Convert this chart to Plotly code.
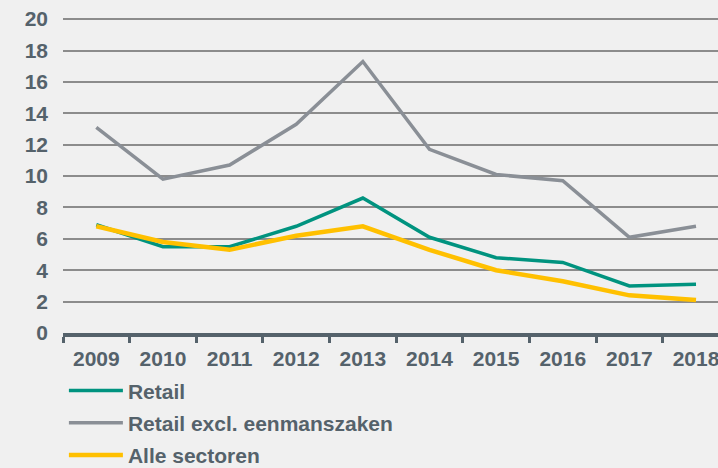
import plotly.graph_objects as go

years = ["2009", "2010", "2011", "2012", "2013", "2014", "2015", "2016", "2017", "2018"]
retail = [6.9, 5.5, 5.5, 6.8, 8.6, 6.1, 4.8, 4.5, 3.0, 3.1]
retail_excl = [13.1, 9.8, 10.7, 13.3, 17.3, 11.7, 10.1, 9.7, 6.1, 6.8]
alle_sectoren = [6.8, 5.8, 5.3, 6.2, 6.8, 5.3, 4.0, 3.3, 2.4, 2.1]
y_ticks = [0, 2, 4, 6, 8, 10, 12, 14, 16, 18, 20]

TEXT = "#55626b"
BG = "#f0f0f0"
FONT = "Liberation Sans, Arial, sans-serif"

fig = go.Figure()
fig.add_trace(go.Scatter(
    x=years, y=retail, name="<b>Retail</b>", mode="lines", legendgroup="a",
    line=dict(color="#00937f", width=3.5),
))
fig.add_trace(go.Scatter(
    x=years, y=retail_excl, name="<b>Retail excl. eenmanszaken</b>", mode="lines",
    legendgroup="b",
    line=dict(color="#8a8f96", width=3.5),
))
fig.add_trace(go.Scatter(
    x=years, y=alle_sectoren, name="<b>Alle sectoren</b>", mode="lines", legendgroup="c",
    line=dict(color="#ffc000", width=4.5),
))

fig.update_layout(
    width=718, height=468,
    paper_bgcolor=BG, plot_bgcolor=BG,
    margin=dict(l=63, r=0, t=16, b=135, autoexpand=False),
    font=dict(family=FONT, color=TEXT, size=21),
    showlegend=True,
    legend=dict(
        orientation="v",
        xref="container", yref="paper",
        x=0.089, xanchor="left",
        y=-0.449, yanchor="bottom",
        bgcolor="rgba(0,0,0,0)",
        font=dict(size=21, color=TEXT, family=FONT),
        tracegroupgap=2,
        itemwidth=54,
    ),
    xaxis=dict(
        type="category",
        range=[-0.5, 9.33],
        showgrid=False,
        showline=True, linecolor=TEXT, linewidth=4,
        ticks="outside", tickson="boundaries", ticklen=6, tickwidth=3, tickcolor=TEXT,
        ticklabelstandoff=4,
        tickfont=dict(size=21, color=TEXT, family=FONT),
        tickangle=0,
        tickprefix="<b>", ticksuffix="</b>",
    ),
    yaxis=dict(
        range=[0, 20.2],
        tickvals=y_ticks,
        ticktext=[f"<b>{v}</b>" for v in y_ticks],
        showgrid=True, gridcolor="#8c8c8c", gridwidth=1.5,
        zeroline=False, showline=False,
        ticklabelstandoff=14,
        tickfont=dict(size=21, color=TEXT, family=FONT),
    ),
)

fig.write_html(
    "out.html",
    config={"displayModeBar": False},
    post_script="document.body.style.margin='0';document.body.style.background='#f0f0f0';",
)
